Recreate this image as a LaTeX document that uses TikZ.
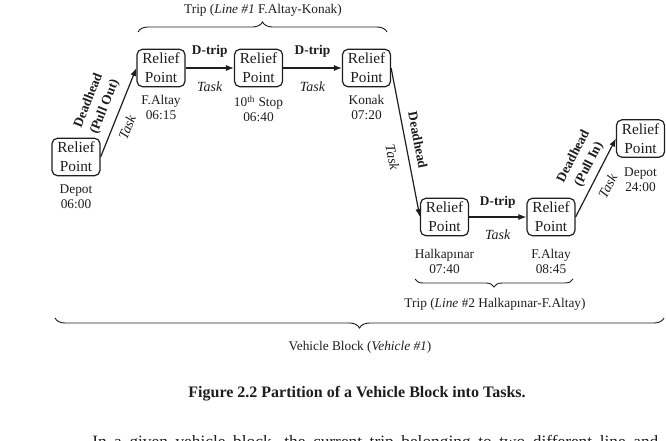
\documentclass[tikz,border=0pt]{standalone}
\usepackage{fontspec}
\setmainfont{Liberation Serif}
\usepackage{tikz}
\usepackage{xcolor}
\usetikzlibrary{arrows.meta,positioning,decorations.pathreplacing}
\definecolor{ink}{HTML}{1E1E1E}
\tikzset{
  relief/.style={draw=ink,line width=0.9pt,rounded corners=4pt,
                 minimum width=36pt,minimum height=28pt,inner sep=1pt,
                 align=center,text=ink,font=\fontsize{11.5}{14}\selectfont},
  stamp/.style={align=center,inner sep=0pt,text=ink,
                font=\fontsize{10}{11.25}\selectfont},
  hop/.style={-{Latex[length=6pt,width=4.6pt]},line width=0.9pt,draw=ink},
  kind/.style={align=center,inner sep=0pt,text=ink,
               font=\bfseries\fontsize{10}{13}\selectfont},
  job/.style={inner sep=0pt,text=ink,font=\itshape\fontsize{10.5}{12}\selectfont},
  blockbrace/.style={decorate,decoration={brace,amplitude=#1},
                     line width=0.7pt,draw=ink},
  bracetext/.style={inner sep=0pt,text=ink,font=\fontsize{10}{12}\selectfont}
}

\begin{document}
\begin{tikzpicture}[x=7.5pt,y=7.5pt]
  \useasboundingbox (0,0) rectangle (66.6,44.0);

  % relief points along the block
  \node[relief] (dep1)  at (7.6,28.3)   {Relief\\Point};
  \node[relief] (fal1)  at (16.1,37.2)  {Relief\\Point};
  \node[relief] (stop)  at (25.85,37.2) {Relief\\Point};
  \node[relief] (konak) at (36.65,37.2) {Relief\\Point};
  \node[relief] (halk)  at (44.45,22.3) {Relief\\Point};
  \node[relief] (fal2)  at (55.1,22.3)  {Relief\\Point};
  \node[relief] (dep2)  at (64.05,30.15) {Relief\\Point};

  \node[stamp,below=6pt of dep1]  (tdep1)  {Depot\\06:00};
  \node[stamp,below=6pt of fal1]  (tfal1)  {F.Altay\\06:15};
  \node[stamp,below=6pt of stop]  (tstop)  {10\textsuperscript{th} Stop\\06:40};
  \node[stamp,below=6pt of konak] (tkonak) {Konak\\07:20};
  \node[stamp,below=9.5pt of halk] (thalk) {Halkapınar\\07:40};
  \node[stamp,below=9.5pt of fal2] (tfal2) {F.Altay\\08:45};
  \node[stamp,below=7.5pt of dep2] (tdep2) {Depot\\24:00};

  % tasks
  \draw[hop] (dep1.east) -- (fal1.west)
    node[kind,midway,sloped,above=6pt] {Deadhead\\(Pull Out)}
    node[job,pos=0.39,sloped,below=6pt] {Task};
  \draw[hop] (fal1) -- (stop)
    node[kind,midway,above=7.5pt] {D-trip}
    node[job,midway,below=10pt] {Task};
  \draw[hop] (stop) -- (konak)
    node[kind,midway,above=7.5pt] {D-trip}
    node[job,midway,below=10pt] {Task};
  \draw[hop] (konak.east) -- (halk.west)
    node[kind,midway,sloped,above=5.5pt] {Deadhead}
    node[job,pos=0.58,sloped,below=7.5pt] {Task};
  \draw[hop] (halk) -- (fal2)
    node[kind,midway,above=6pt] {D-trip}
    node[job,midway,below=9pt] {Task};
  \draw[hop] (fal2.east) -- (dep2.west)
    node[kind,pos=0.6,sloped,above=4pt] {Deadhead\\(Pull In)}
    node[job,pos=0.48,sloped,below=6.5pt] {Task};

  % braces
  \coordinate (trip1a) at (13.8,40.8);
  \coordinate (trip1b) at (38.7,40.8);
  \coordinate (trip2a) at (57.3,16.1);
  \coordinate (trip2b) at (41.5,16.1);
  \coordinate (blocka) at (66.4,12.2);
  \coordinate (blockb) at (5.5,12.2);
  \draw[blockbrace=7.5pt] (trip1a) -- (trip1b);
  \draw[blockbrace=6pt] (trip2a) -- (trip2b);
  \draw[blockbrace=7.5pt] (blocka) -- (blockb);
  \node[bracetext] (trip1) at (26.3,43.0)
    {Trip (\textit{Line \#1} F.Altay-Konak)};
  \node[bracetext] (trip2) at (49.5,13.6)
    {Trip (\textit{Line} \#2 Halkapınar-F.Altay)};
  \node[bracetext] (block) at (36.0,9.3)
    {Vehicle Block (\textit{Vehicle \#1})};

  \node[inner sep=0pt,text=ink,font=\bfseries\fontsize{12}{14}\selectfont]
    (caption) at (35.7,4.6) {Figure 2.2 Partition of a Vehicle Block into Tasks.};

  \begin{scope}
    \clip (0,0) rectangle (66.6,44.0);
    \node[anchor=base west,inner sep=0pt,text=ink,font=\fontsize{13}{15}\selectfont]
      (body) at (9.2,-0.75)
      {\makebox[424.5pt][s]{In a given vehicle block, the current trip belonging to two different line and}};
  \end{scope}
\end{tikzpicture}
\end{document}
